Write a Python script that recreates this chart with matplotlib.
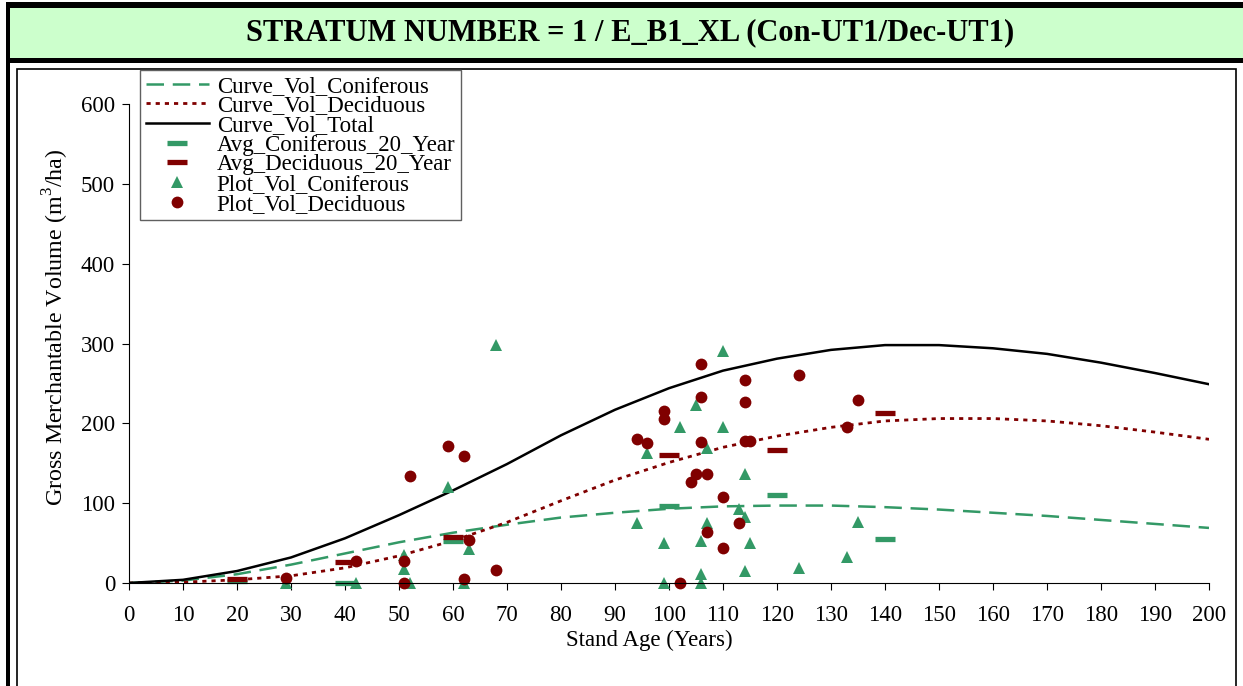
import matplotlib
matplotlib.use('Agg')
import matplotlib.pyplot as plt
from matplotlib.patches import Rectangle

plt.rcParams['font.family'] = ['Liberation Serif', 'DejaVu Serif']
plt.rcParams['mathtext.fontset'] = 'custom'
plt.rcParams['mathtext.rm'] = 'Liberation Serif'

# yield curves (every 10 years)
ages = [0, 10, 20, 30, 40, 50, 60, 70, 80, 90, 100, 110, 120, 130, 140, 150, 160, 170, 180, 190, 200]
curve_con = [0, 3, 11, 23, 37, 51, 63, 73, 82, 88, 93, 96, 97, 97, 95, 92, 88, 84, 79, 74, 69]
curve_dec = [0, 1, 4, 9, 19, 34, 53, 76, 103, 129, 151, 170, 184, 195, 203, 206, 206, 203, 197, 189, 180]
curve_tot = [0, 4, 15, 32, 56, 85, 116, 149, 185, 217, 244, 266, 281, 292, 298, 298, 294, 287, 276, 263, 249]

# 20 year averages
avg_age = [20, 40, 60, 100, 120, 140]
avg_con = [2, 0, 53, 96, 110, 55]
avg_dec = [5, 26, 57, 160, 166, 213]

# plot volumes
pc_age = [29, 42, 51, 51, 52, 59, 62, 63, 68, 94, 96, 99, 99, 102, 105, 106, 106, 106, 107, 107,
          110, 110, 113, 114, 114, 114, 115, 124, 133, 135]
pc_vol = [0, 0, 17, 35, 0, 120, 0, 42, 298, 75, 163, 50, 0, 196, 223, 52, 11, 0, 75, 169,
          290, 195, 93, 136, 83, 15, 50, 19, 32, 76]
pd_age = [29, 42, 51, 51, 52, 59, 62, 62, 63, 68, 94, 96, 99, 99, 102, 104, 105, 106, 106, 106,
          107, 107, 110, 110, 113, 114, 114, 114, 115, 124, 133, 135]
pd_vol = [6, 27, 0, 28, 134, 172, 159, 5, 54, 16, 181, 175, 215, 206, 0, 126, 137, 274, 233, 177,
          137, 64, 108, 44, 75, 254, 227, 178, 178, 261, 196, 229]

green = '#339966'
red = '#800000'

fig = plt.figure(figsize=(12.43, 6.86), dpi=100)
W, H = 1243.0, 686.0

# frame / title band
fig.add_artist(Rectangle((6/W, 1-8/H), 1237/W, 6/H, transform=fig.transFigure, color='black', lw=0))
fig.add_artist(Rectangle((10/W, 1-58/H), 1233/W, 50/H, transform=fig.transFigure, color='#CCFFCC', lw=0))
fig.add_artist(Rectangle((6/W, 1-63/H), 1237/W, 5/H, transform=fig.transFigure, color='black', lw=0))
fig.add_artist(Rectangle((6/W, 0), 4/W, 1-2/H, transform=fig.transFigure, color='black', lw=0))
fig.add_artist(Rectangle((17/W, -0.02), 1219/W, (686-69)/H+0.02, transform=fig.transFigure,
                         fill=False, edgecolor='black', lw=1.2))
fig.text(630/W, 1-33/H, 'STRATUM NUMBER = 1 / E_B1_XL (Con-UT1/Dec-UT1)',
         ha='center', va='center', fontsize=22, fontweight='bold')

ax = fig.add_axes([129/W, 1-583/H, 1080/W, 479/H])
ax.plot(ages, curve_con, color=green, lw=1.8, dashes=(7, 3.5), label='Curve_Vol_Coniferous')
ax.plot(ages, curve_dec, color=red, lw=2.0, dashes=(1.5, 1.8), label='Curve_Vol_Deciduous')
ax.plot(ages, curve_tot, color='black', lw=1.8, label='Curve_Vol_Total')
ax.plot(avg_age, avg_con, ls='none', marker='_', ms=14, mew=3.8, color=green, clip_on=False,
        label='Avg_Coniferous_20_Year')
ax.plot(avg_age, avg_dec, ls='none', marker='_', ms=14, mew=3.8, color=red, clip_on=False,
        label='Avg_Deciduous_20_Year')
ax.plot(pc_age, pc_vol, ls='none', marker='^', ms=8.5, color=green, mew=0, clip_on=False,
        label='Plot_Vol_Coniferous')
ax.plot(pd_age, pd_vol, ls='none', marker='o', ms=8.5, color=red, mew=0, clip_on=False,
        label='Plot_Vol_Deciduous')

ax.set_xlim(0, 200)
ax.set_ylim(0, 600)
ax.set_xticks(range(0, 201, 10))
ax.set_yticks(range(0, 601, 100))
for s in ['top', 'right']:
    ax.spines[s].set_visible(False)
ax.tick_params(axis='both', direction='out', length=5, labelsize=16.5)
ax.tick_params(axis='x', pad=11)
ax.tick_params(axis='y', pad=5)
ax.set_xlabel('Stand Age (Years)', fontsize=16.5)
ax.set_ylabel('Gross Merchantable Volume (m$^3$/ha)', fontsize=17.3)
ax.xaxis.set_label_coords(0.482, -0.098)
ax.yaxis.set_label_coords(-0.054, 0.533)

leg = fig.legend(*ax.get_legend_handles_labels(), loc='upper left',
                 bbox_to_anchor=(140/W, 1-70/H), fontsize=16.5, frameon=True, fancybox=False,
                 edgecolor='#606060', framealpha=1, labelspacing=-0.06, handlelength=2.75,
                 handletextpad=0.35, borderpad=0.25, borderaxespad=0)
leg.get_frame().set_linewidth(1.0)

fig.savefig('out.png', dpi=100)
